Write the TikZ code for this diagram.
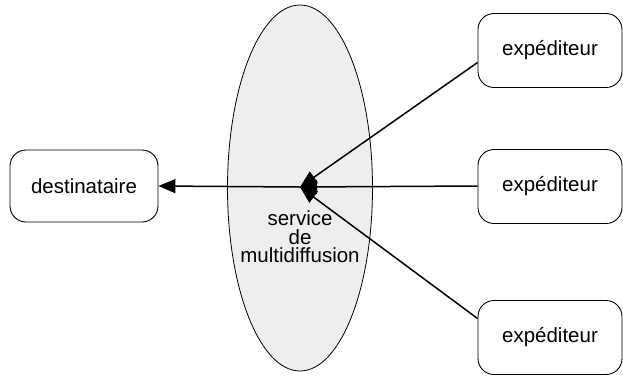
\documentclass[tikz,border=0pt]{standalone}
\usepackage{fontspec}
\setmainfont{Liberation Sans}
\usetikzlibrary{shapes.geometric,arrows.meta}
\begin{document}
\begin{tikzpicture}[x=1pt,y=-1pt,
  box/.style={draw,line width=0.9pt,rounded corners=16pt,minimum width=144pt,minimum height=74pt,inner sep=0pt,font=\fontsize{20.5}{22}\selectfont},
  arr/.style={line width=1.5pt,-{Triangle[length=17pt,width=14pt]}},
  lbl/.style={font=\fontsize{20.5}{18.5}\selectfont,align=center,inner sep=0pt}]
\useasboundingbox (0,0) rectangle (623,376);
\node[ellipse,draw,line width=0.8pt,fill=gray!13,minimum width=145pt,minimum height=366pt,inner sep=0pt] (mc) at (300,188) {};
\coordinate (hub) at (300,187);
\node[lbl] (txt) at (300,237) {service\\de\\multidiffusion};
\node[box,minimum width=148pt,minimum height=72pt] (dst) at (84,186) {destinataire};
\node[box] (e1) at (550,50.5) {expéditeur};
\node[box] (e2) at (550,186.5) {expéditeur};
\node[box] (e3) at (550,337.5) {expéditeur};
\draw[arr] ([yshift=-12pt]e1.west) -- (hub);
\draw[arr] ([yshift=0.5pt]e2.west) -- (hub);
\draw[arr] ([yshift=19pt]e3.west) -- (hub);
\draw[arr] (hub) -- (dst.east);
\end{tikzpicture}
\end{document}
